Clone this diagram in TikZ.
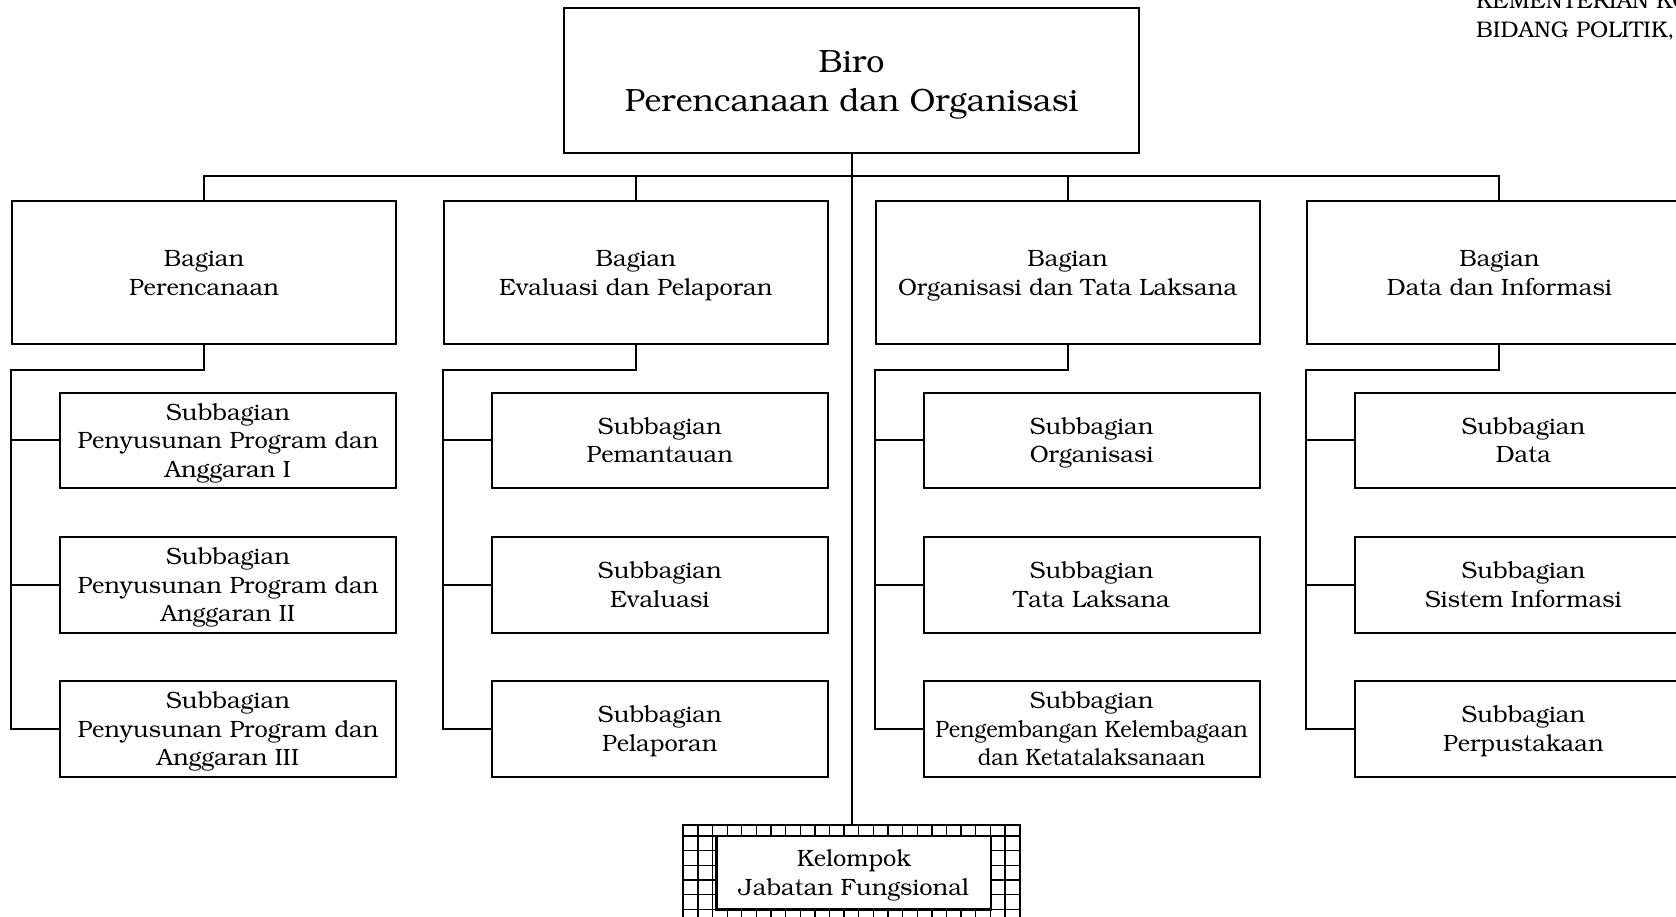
\documentclass[tikz,border=0pt]{standalone}
\usepackage[T1]{fontenc}
\usepackage{bookman}
\begin{document}
\begin{tikzpicture}[x=1pt,y=-1pt]
\tikzset{
  bx/.style={draw, line width=2pt, inner sep=0pt, align=center, text depth=0pt, font=\fontsize{23.6}{28.6}\selectfont},
  bag/.style={bx, minimum width=384pt, minimum height=143.6pt},
  sub/.style={bx, minimum width=336pt, minimum height=95.5pt},
  ln/.style={line width=2pt},
  gl/.style={line width=1.3pt},
  hdr/.style={anchor=base west, inner sep=0pt, font=\fontsize{22.6}{29.7}\selectfont},
}
\useasboundingbox (0,0) rectangle (1676,917);

% header text
\node[hdr] (h1) at (1476,8.3) {KEMENTERIAN KOORDINATOR};
\node[hdr] (h2) at (1476,37.7) {BIDANG POLITIK, HUKUM, DAN KEAMANAN};

% top
\node[bx, minimum width=575pt, minimum height=144.5pt, font=\fontsize{32.2}{38.5}\selectfont] (top) at (851.5,80.75) {Biro\\Perencanaan dan Organisasi};

% bagian
\node[bag] (b1) at (204,272.5) {Bagian\\Perencanaan};
\node[bag] (b2) at (635.8,272.5) {Bagian\\Evaluasi dan Pelaporan};
\node[bag] (b3) at (1067.6,272.5) {Bagian\\Organisasi dan Tata Laksana};
\node[bag] (b4) at (1499.4,272.5) {Bagian\\Data dan Informasi};

% subbagian
\node[sub] (s11) at (228,440.4) {Subbagian\\Penyusunan Program dan\\Anggaran I};
\node[sub] (s12) at (228,584.8) {Subbagian\\Penyusunan Program dan\\Anggaran II};
\node[sub] (s13) at (228,729) {Subbagian\\Penyusunan Program dan\\Anggaran III};

\node[sub] (s21) at (659.8,440.4) {Subbagian\\Pemantauan};
\node[sub] (s22) at (659.8,584.8) {Subbagian\\Evaluasi};
\node[sub] (s23) at (659.8,729) {Subbagian\\Pelaporan};

\node[sub] (s31) at (1091.6,440.4) {Subbagian\\Organisasi};
\node[sub] (s32) at (1091.6,584.8) {Subbagian\\Tata Laksana};
\node[sub] (s33) at (1091.6,729) {Subbagian\\\scalebox{0.925}[1]{Pengembangan Kelembagaan}\\\scalebox{0.925}[1]{dan Ketatalaksanaan}};

\node[sub] (s41) at (1523.4,440.4) {Subbagian\\Data};
\node[sub] (s42) at (1523.4,584.8) {Subbagian\\Sistem Informasi};
\node[sub] (s43) at (1523.4,729) {Subbagian\\Perpustakaan};

% kelompok jabatan fungsional
\node[draw, line width=2pt, minimum width=336.2pt, minimum height=93pt, inner sep=0pt] (kelo) at (851.4,871.5) {};
\begin{scope}
  \clip (kelo.north west) rectangle (kelo.south east);
  \foreach \i in {0,...,23} \draw[gl] ({683.3+\i*14.62},825) -- ++(0,93);
  \foreach \j in {0,...,6} \draw[gl] (683.3,{836+\j*14.67}) -- ++(336.2,0);
\end{scope}
\node[draw, line width=2pt, minimum width=336.2pt, minimum height=93pt, inner sep=0pt] (kelo2) at (851.4,871.5) {};
\node[bx, line width=2.6pt, fill=white, minimum width=274.3pt, minimum height=73.3pt] (kel) at (853.9,872.6) {Kelompok\\Jabatan Fungsional};

% connectors
\coordinate (bus) at (851.5,176);
\draw[ln] (top.south) -- (top.south |- kelo.north);
\draw[ln] (b1.north) -- (b1.north |- bus) -- (b4.north |- bus) -- (b4.north);
\draw[ln] (b2.north) -- (b2.north |- bus);
\draw[ln] (b3.north) -- (b3.north |- bus);

\foreach \c in {1,2,3,4}{
  \draw[ln] (b\c.south) -- ++(0,24.4) -| (b\c.west |- s\c3.west) -- (s\c3.west);
  \draw[ln] (b\c.west |- s\c1.west) -- (s\c1.west);
  \draw[ln] (b\c.west |- s\c2.west) -- (s\c2.west);
}
\end{tikzpicture}
\end{document}
